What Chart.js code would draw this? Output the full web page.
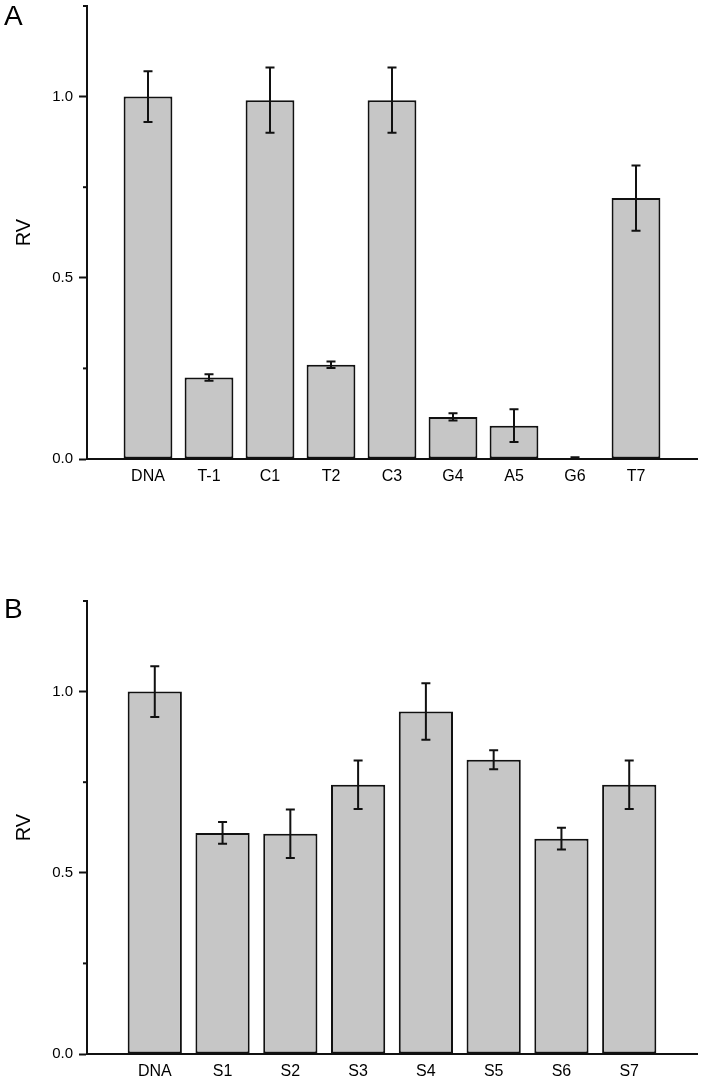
<!DOCTYPE html>
<html>
<head>
<meta charset="utf-8">
<script src="https://cdn.jsdelivr.net/npm/chart.js"></script>
<style>
  html, body { margin: 0; padding: 0; background: #fff; }
  .panel { position: absolute; left: 0; width: 701px; height: 490px; }
  #panelA { top: 0; }
  #panelB { top: 595px; }
</style>
</head>
<body>
<div class="panel" id="panelA"><canvas id="chartA" width="701" height="490"></canvas></div>
<div class="panel" id="panelB"><canvas id="chartB" width="701" height="490"></canvas></div>
<script>
const FONT = "'Liberation Sans', Arial, sans-serif";

// Panel A
const labelsA = ['DNA', 'T-1', 'C1', 'T2', 'C3', 'G4', 'A5', 'G6', 'T7'];
const valuesA = [1.0, 0.225, 0.99, 0.26, 0.99, 0.116, 0.092, 0.003, 0.72];
const errorsA = [0.07, 0.009, 0.09, 0.009, 0.09, 0.01, 0.045, 0.002, 0.09];

// Panel B
const labelsB = ['DNA', 'S1', 'S2', 'S3', 'S4', 'S5', 'S6', 'S7'];
const valuesB = [1.0, 0.61, 0.608, 0.743, 0.945, 0.812, 0.594, 0.743];
const errorsB = [0.07, 0.03, 0.067, 0.067, 0.078, 0.026, 0.03, 0.067];

// y axis: labelled ticks, minor ticks every 0.25
const yTickValues = [0, 0.5, 1.0];
const yTickLabels = ['0.0', '0.5', '1.0'];

function isMajor(v) {
  return yTickValues.some(t => Math.abs(t - v) < 1e-6);
}

// error bars drawn from the y scale
const errorBars = {
  id: 'errorBars',
  afterDatasetsDraw(chart, args, opts) {
    const { ctx, scales: { y } } = chart;
    const meta = chart.getDatasetMeta(0);
    const data = chart.data.datasets[0].data;
    ctx.save();
    ctx.strokeStyle = '#111';
    ctx.lineWidth = 2;
    meta.data.forEach((bar, i) => {
      const v = data[i];
      const e = opts.errors[i];
      if (v == null || e == null) return;
      const top = y.getPixelForValue(v + e);
      const bot = y.getPixelForValue(v - e);
      const x = bar.x;
      ctx.beginPath();
      ctx.moveTo(x, top); ctx.lineTo(x, bot);
      ctx.moveTo(x - 4.5, top); ctx.lineTo(x + 4.5, top);
      ctx.moveTo(x - 4.5, bot); ctx.lineTo(x + 4.5, bot);
      ctx.stroke();
    });
    ctx.restore();
  }
};

// short minor ticks + panel letter
const decorations = {
  id: 'decorations',
  afterDraw(chart, args, opts) {
    const { ctx, scales: { y } } = chart;
    ctx.save();
    ctx.strokeStyle = '#111';
    ctx.lineWidth = 2;
    y.ticks.forEach(t => {
      if (isMajor(t.value)) return;
      const py = y.getPixelForValue(t.value);
      ctx.beginPath();
      ctx.moveTo(y.right - 4, py);
      ctx.lineTo(y.right, py);
      ctx.stroke();
    });
    ctx.fillStyle = '#000';
    ctx.font = '28px ' + FONT;
    ctx.textBaseline = 'alphabetic';
    ctx.fillText(opts.letter, 4, opts.letterY);
    ctx.restore();
  }
};

function makePanel(canvasId, labels, values, errors, letter, letterY) {
  const ctx = document.getElementById(canvasId).getContext('2d');
  // empty slots at both ends so the bars sit at 1..n on the axis
  const cats = [''].concat(labels, ['']);
  const data = [null].concat(values, [null]);
  const errs = [null].concat(errors, [null]);

  return new Chart(ctx, {
    type: 'bar',
    data: {
      labels: cats,
      datasets: [{
        data: data,
        backgroundColor: '#c6c6c6',
        borderColor: '#111',
        borderWidth: 2,
        borderSkipped: false,
        categoryPercentage: 1,
        barPercentage: 0.8
      }]
    },
    options: {
      responsive: false,
      animation: false,
      devicePixelRatio: 1,
      layout: { padding: { top: 6, right: 4, left: 0, bottom: 0 } },
      plugins: {
        legend: { display: false },
        tooltip: { enabled: false },
        errorBars: { errors: errs },
        decorations: { letter: letter, letterY: letterY }
      },
      scales: {
        x: {
          type: 'category',
          offset: false,
          grid: { display: true, drawOnChartArea: false, drawTicks: false, color: 'rgba(0,0,0,0)' },
          border: { display: true, color: '#111', width: 2 },
          ticks: {
            autoSkip: false,
            maxRotation: 0,
            padding: 8,
            color: '#000',
            font: { family: FONT, size: 16 }
          },
          afterFit(scale) {
            scale.height = 31;
            scale.paddingLeft = 0;
            scale.paddingRight = 0;
          }
        },
        y: {
          min: 0,
          max: 1.25,
          grid: {
            display: true,
            drawOnChartArea: false,
            drawTicks: true,
            tickLength: 8,
            tickWidth: 2,
            tickColor: c => isMajor(c.tick.value) ? '#111' : 'rgba(0,0,0,0)'
          },
          border: { display: true, color: '#111', width: 2 },
          ticks: {
            stepSize: 0.25,
            padding: 6,
            color: '#000',
            font: { family: FONT, size: 15 },
            callback: v => {
              const i = yTickValues.findIndex(t => Math.abs(t - v) < 1e-6);
              return i >= 0 ? yTickLabels[i] : '';
            }
          },
          title: {
            display: true,
            text: 'RV',
            color: '#000',
            font: { family: FONT, size: 20 },
            padding: { top: 12, bottom: 0 }
          },
          afterFit(scale) {
            scale.width = 87;
            scale.paddingTop = 0;
            scale.paddingBottom = 0;
          }
        }
      }
    },
    plugins: [errorBars, decorations]
  });
}

window.addEventListener('DOMContentLoaded', () => {
  makePanel('chartA', labelsA, valuesA, errorsA, 'A', 25);
  makePanel('chartB', labelsB, valuesB, errorsB, 'B', 22.5);
});
</script>
</body>
</html>
